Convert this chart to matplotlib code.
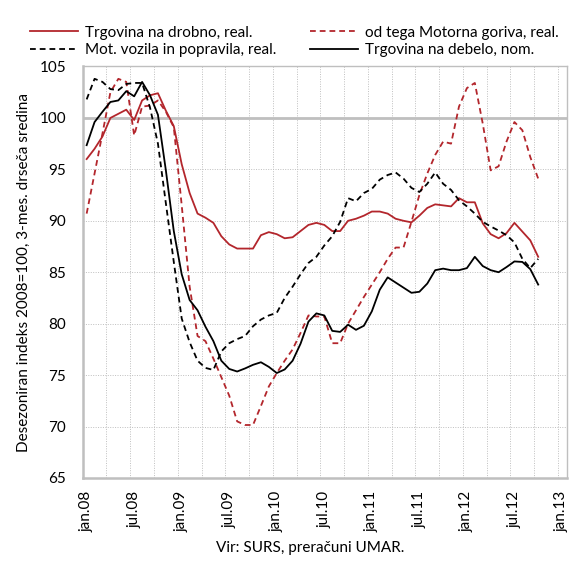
import matplotlib
matplotlib.use("Agg")
import matplotlib.pyplot as plt

# podatki: jan.08 - okt.12, mesečno
drobno = [96.0, 97.0, 98.2, 100.0, 100.4, 100.8, 99.8, 101.7, 102.2, 102.4,
          100.7, 99.2, 95.5, 92.7, 90.7, 90.3, 89.8, 88.5, 87.7, 87.3,
          87.3, 87.3, 88.6, 88.9, 88.7, 88.3, 88.4, 89.0, 89.6, 89.8,
          89.6, 89.0, 89.0, 90.0, 90.2, 90.5, 90.9, 90.9, 90.7, 90.2,
          90.0, 89.85, 90.5, 91.25, 91.6, 91.5, 91.4, 92.2, 91.8, 91.8,
          89.75, 88.7, 88.3, 88.8, 89.8, 88.95, 88.1, 86.5]

goriva = [90.7, 94.6, 98.5, 102.5, 103.8, 103.5, 98.3, 101.1, 101.2, 101.7,
          100.6, 99.1, 91.5, 83.6, 78.8, 78.3, 76.6, 74.8, 73.0, 70.5,
          70.15, 70.15, 72.0, 73.9, 75.2, 76.4, 77.5, 79.1, 80.8, 80.7,
          80.7, 78.1, 78.1, 80.0, 81.3, 82.6, 83.8, 85.0, 86.3, 87.4,
          87.4, 89.9, 92.5, 94.6, 96.4, 97.7, 97.5, 101.1, 102.9, 103.4,
          99.45, 94.9, 95.3, 97.7, 99.6, 98.8, 96.2, 94.1]

vozila = [101.8, 103.8, 103.5, 102.8, 102.7, 103.3, 103.4, 103.4, 101.0, 97.5,
          91.7, 86.0, 80.5, 78.2, 76.4, 75.7, 75.5, 77.3, 78.1, 78.5,
          78.8, 79.75, 80.4, 80.8, 81.05, 82.5, 83.6, 84.8, 85.9, 86.5,
          87.6, 88.5, 89.9, 92.2, 91.9, 92.7, 93.1, 94.0, 94.45, 94.7,
          94.1, 93.2, 92.8, 93.6, 94.7, 93.6, 93.0, 92.0, 91.4, 90.7,
          89.9, 89.45, 89.05, 88.6, 87.9, 86.3, 85.4, 86.3]

debelo = [97.35, 99.6, 100.6, 101.55, 101.7, 102.6, 102.1, 103.5, 102.2, 100.3,
          94.9, 89.0, 84.8, 82.3, 81.3, 79.7, 78.3, 76.4, 75.6, 75.35,
          75.65, 76.0, 76.25, 75.8, 75.2, 75.55, 76.4, 78.05, 80.2, 81.0,
          80.8, 79.3, 79.2, 79.9, 79.4, 79.8, 81.2, 83.3, 84.5, 84.0,
          83.5, 83.0, 83.1, 83.9, 85.2, 85.35, 85.2, 85.2, 85.4, 86.5,
          85.6, 85.2, 85.0, 85.5, 86.05, 86.0, 85.3, 83.8]

oznake = ["jan.08", "jul.08", "jan.09", "jul.09", "jan.10", "jul.10",
          "jan.11", "jul.11", "jan.12", "jul.12", "jan.13"]

plt.rcParams["font.family"] = ["Lato", "DejaVu Sans"]

rdeca = "#b3262c"
siva = "#bfbfbf"
vel = 11

fig = plt.figure(figsize=(5.75, 5.62), dpi=100)
ax = fig.add_axes([0.1438, 0.1495, 0.8418, 0.7322])

x = list(range(len(drobno)))
crtice = (3.2, 2.2)

l1, = ax.plot(x, drobno, color=rdeca, lw=1.3, label="Trgovina na drobno, real.")
l2, = ax.plot(x, goriva, color=rdeca, lw=1.3, ls=(0, crtice),
              label="od tega Motorna goriva, real.")
l3, = ax.plot(x, vozila, color="black", lw=1.3, ls=(0, crtice),
              label="Mot. vozila in popravila, real.")
l4, = ax.plot(x, debelo, color="black", lw=1.3, label="Trgovina na debelo, nom.")

ax.set_xlim(-0.5, 60.6)
ax.set_ylim(65, 105)

# mreža
for k in range(20):
    ax.axvline(2.5 + 3 * k, color=siva, lw=0.7, ls=(0, (1, 1.5)), zorder=0)
for v in range(70, 100, 5):
    ax.axhline(v, color=siva, lw=0.7, ls=(0, (1, 1.5)), zorder=0)
ax.axhline(100, color=siva, lw=2, zorder=0)

for s in ["left", "bottom"]:
    ax.spines[s].set_color(siva)
    ax.spines[s].set_linewidth(1.8)
for s in ["top", "right"]:
    ax.spines[s].set_color(siva)
    ax.spines[s].set_linewidth(1.0)

ax.set_yticks(range(65, 106, 5))
ax.set_xticks(range(0, 61, 6))
ax.set_xticklabels(oznake, rotation=90)
ax.tick_params(axis="both", length=0, labelsize=vel)
ax.tick_params(axis="y", pad=12)
ax.tick_params(axis="x", pad=9)

ax.set_ylabel("Desezoniran indeks 2008=100, 3-mes. drseča sredina", fontsize=vel,
              labelpad=6)

fig.legend([l1, l3, l2, l4], [l1.get_label(), l3.get_label(), l2.get_label(), l4.get_label()],
           ncol=2, loc="upper left", bbox_to_anchor=(0.028, 0.979), frameon=False,
           fontsize=vel, handlelength=3.15, columnspacing=2.2, labelspacing=0.25,
           handletextpad=0.45)

fig.text(0.54, 0.018, "Vir: SURS, preračuni UMAR.", ha="center", fontsize=vel)

fig.savefig("out.png", dpi=100)
